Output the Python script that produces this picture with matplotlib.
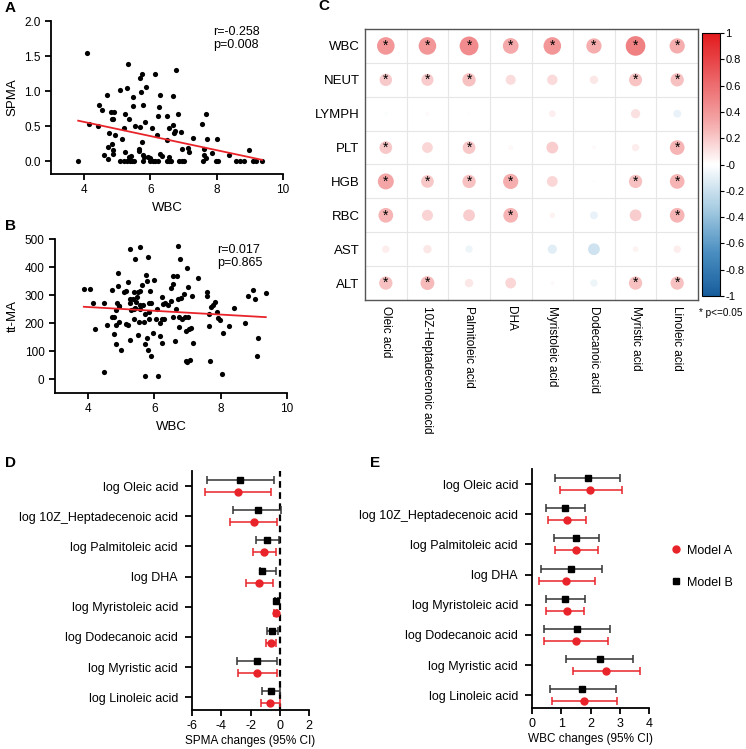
#!/usr/bin/env python3
# fatty_acid_panels.py

import numpy as np
import matplotlib
matplotlib.use("Agg")
import matplotlib.pyplot as plt
from matplotlib.colors import LinearSegmentedColormap, Normalize
from matplotlib.colorbar import ColorbarBase
from matplotlib.lines import Line2D

plt.rcParams["font.family"] = ["Liberation Sans", "DejaVu Sans"]
plt.rcParams["axes.unicode_minus"] = False

# Panel A: WBC vs SPMA
spma_wbc = [4.09, 4.14, 4.43, 4.45, 4.53, 4.61, 4.69, 4.71, 4.73, 4.75, 4.80, 4.83,
            4.85, 4.88, 4.91, 4.87, 4.88, 4.93, 5.09, 5.13, 5.19, 5.22, 5.24, 5.30,
            5.32, 5.34, 5.36, 5.40, 5.48, 5.48, 5.54, 5.65, 5.67, 5.69, 5.70, 5.72,
            5.74, 5.76, 5.78, 5.78, 5.80, 5.84, 5.88, 5.92, 5.98, 6.06, 6.14, 6.20,
            6.22, 6.26, 6.28, 6.28, 6.35, 6.49, 6.51, 6.55, 6.57, 6.67, 6.69, 6.72,
            6.74, 6.76, 6.82, 6.92, 6.94, 7.14, 7.16, 7.28, 7.55, 7.61, 7.67, 7.71,
            7.63, 7.67, 7.87, 8.01, 8.36, 8.98,
            3.82, 5.08, 5.19, 5.29, 5.39, 5.44, 5.49, 5.79, 6.00, 6.07, 6.15, 6.23,
            6.50, 6.57, 6.63, 6.86, 6.94, 7.01, 7.59, 7.97, 8.05, 8.58, 8.70, 8.83,
            9.09, 9.19, 9.37]
spma = [1.55, 0.53, 0.50, 0.80, 0.73, 0.09, 0.94, 0.21, 0.04, 0.40, 0.71, 0.60,
        0.25, 0.60, 0.71, 0.16, 0.10, 0.38, 1.02, 0.32, 0.47, 0.13, 0.68, 1.04,
        1.39, 0.61, 0.06, 0.08, 0.92, 0.79, 0.51, 0.15, 0.18, 0.49, 1.19, 0.99,
        0.27, 1.25, 0.81, 0.09, 0.06, 0.56, 1.06, 0.06, 0.05, 0.48, 1.25, 0.38,
        0.64, 0.78, 0.95, 0.11, 0.07, 0.65, 0.30, 0.06, 0.47, 0.52, 0.93, 0.40,
        0.43, 1.30, 0.68, 0.42, 0.18, 0.19, 0.14, 0.33, 0.53, 0.18, 0.67, 0.32,
        0.09, 0.05, 0.12, 0.32, 0.09, 0.16,
        0, 0, 0, 0, 0, 0, 0, 0, 0, 0, 0, 0,
        0, 0, 0, 0, 0, 0, 0, 0, 0, 0, 0, 0,
        0, 0, 0]
spma_fit = (0.964, -0.1006)  # intercept, slope
spma_stats = "r=-0.258\np=0.008"

# Panel B: WBC vs tt-MA
ttma_wbc = [3.87, 4.07, 4.14, 4.20, 4.49, 4.49, 4.57, 4.73, 4.73, 4.77, 4.79, 4.83,
            4.83, 4.85, 4.87, 4.89, 4.91, 4.92, 4.93, 4.94, 4.99, 5.07, 5.15, 5.15,
            5.19, 5.19, 5.25, 5.27, 5.25, 5.27, 5.29, 5.35, 5.37, 5.37, 5.37, 5.41,
            5.42, 5.44, 5.47, 5.49, 5.51, 5.53, 5.55, 5.55, 5.57, 5.57, 5.61, 5.65,
            5.69, 5.71, 5.71, 5.73, 5.75, 5.77, 5.77, 5.81, 5.81, 5.83, 5.83, 5.85,
            5.87, 5.89, 5.91, 5.97, 5.99, 6.05, 6.09, 6.11, 6.18, 6.18, 6.22, 6.24,
            6.24, 6.25, 6.29, 6.33, 6.41, 6.49, 6.51, 6.55, 6.57, 6.57, 6.61, 6.65,
            6.67, 6.71, 6.71, 6.73, 6.75, 6.77, 6.79, 6.83, 6.89, 6.93, 6.95, 6.95,
            6.97, 6.99, 7.01, 7.01, 7.03, 7.07, 7.09, 7.13, 7.17, 7.31, 7.58, 7.60,
            7.64, 7.64, 7.68, 7.72, 7.78, 7.84, 7.88, 7.92, 7.98, 8.06, 8.04, 8.24,
            8.40, 8.72, 8.82, 8.98, 9.02, 9.12, 9.08, 9.36]
ttma = [323, 323, 271, 179, 271, 26, 192, 318, 221, 221, 160, 192,
        126, 245, 273, 332, 378, 261, 204, 261, 104, 309, 316, 197,
        192, 348, 284, 271, 138, 463, 247, 284, 309, 249, 216, 430,
        252, 276, 292, 309, 157, 202, 472, 313, 249, 266, 335, 266,
        204, 10, 126, 233, 373, 349, 145, 435, 102, 240, 216, 271,
        316, 83, 271, 163, 354, 216, 249, 12, 199, 152, 216, 294,
        128, 267, 216, 271, 266, 324, 280, 221, 340, 368, 135, 249,
        368, 475, 287, 223, 185, 430, 290, 213, 304, 221, 171, 66,
        59, 398, 328, 221, 178, 68, 183, 297, 128, 359, 309, 295,
        188, 233, 66, 257, 266, 276, 238, 219, 209, 164, 19, 188,
        255, 200, 297, 318, 285, 145, 81, 306]
ttma_fit = (284.0, -6.74)
ttma_stats = "r=0.017\np=0.865"

# Panel C: correlation matrix
corr_rows = ["WBC", "NEUT", "LYMPH", "PLT", "HGB", "RBC", "AST", "ALT"]
corr_cols = ["Oleic acid", "10Z-Heptadecenoic acid", "Palmitoleic acid", "DHA",
             "Myristoleic acid", "Dodecanoic acid", "Myristic acid", "Linoleic acid"]
corr_vals = [
    [0.40, 0.40, 0.46, 0.32, 0.40, 0.30, 0.50, 0.30],
    [0.20, 0.19, 0.23, 0.13, 0.14, 0.09, 0.22, 0.23],
    [-0.02, 0.02, 0.01, 0.0, 0.06, 0.0, 0.11, -0.08],
    [0.21, 0.15, 0.21, 0.03, 0.18, 0.02, 0.07, 0.28],
    [0.33, 0.21, 0.23, 0.30, 0.15, 0.01, 0.23, 0.28],
    [0.28, 0.16, 0.18, 0.28, 0.04, -0.08, 0.18, 0.28],
    [0.07, 0.09, -0.07, 0.0, -0.11, -0.18, 0.04, 0.07],
    [0.23, 0.25, 0.09, 0.15, 0.02, -0.07, 0.23, 0.23],
]
corr_sig = [
    [1, 1, 1, 1, 1, 1, 1, 1],
    [1, 1, 1, 0, 0, 0, 1, 1],
    [0, 0, 0, 0, 0, 0, 0, 0],
    [1, 0, 1, 0, 0, 0, 0, 1],
    [1, 1, 1, 1, 0, 0, 1, 1],
    [1, 0, 0, 1, 0, 0, 0, 1],
    [0, 0, 0, 0, 0, 0, 0, 0],
    [1, 1, 0, 0, 0, 0, 1, 1],
]

# Panels D and E: regression estimates (point, low, high)
acid_labels = ["log Oleic acid", "log 10Z_Heptadecenoic acid", "log Palmitoleic acid",
               "log DHA", "log Myristoleic acid", "log Dodecanoic acid",
               "log Myristic acid", "log Linoleic acid"]
spma_a = [-2.87, -1.76, -1.06, -1.40, -0.27, -0.57, -1.54, -0.68]
spma_a_lo = [-5.11, -3.39, -1.86, -2.33, -0.36, -0.95, -2.87, -1.31]
spma_a_hi = [-0.63, -0.16, -0.27, -0.45, -0.18, -0.23, -0.18, 0.0]
spma_b = [-2.72, -1.52, -0.86, -1.18, -0.23, -0.50, -1.54, -0.61]
spma_b_lo = [-4.98, -3.17, -1.63, -1.35, -0.32, -0.90, -2.90, -1.24]
spma_b_hi = [-0.41, 0.11, -0.05, -0.25, -0.12, -0.11, -0.18, 0.0]

wbc_a = [1.99, 1.21, 1.50, 1.17, 1.21, 1.52, 2.54, 1.79]
wbc_a_lo = [0.95, 0.55, 0.79, 0.23, 0.48, 0.42, 1.40, 0.68]
wbc_a_hi = [3.08, 1.86, 2.25, 2.15, 1.77, 2.60, 3.69, 2.91]
wbc_b = [1.90, 1.13, 1.52, 1.34, 1.14, 1.55, 2.31, 1.72]
wbc_b_lo = [0.80, 0.47, 0.74, 0.31, 0.47, 0.42, 1.15, 0.60]
wbc_b_hi = [3.02, 1.80, 2.29, 2.39, 1.81, 2.68, 3.45, 2.88]

RED = "#e8242a"
W = 746
H = 749


def box(left, top, right, bottom):
    return [left / W, 1 - bottom / H, (right - left) / W, (bottom - top) / H]


def style_prism(ax):
    for s in ["top", "right"]:
        ax.spines[s].set_visible(False)
    for s in ["left", "bottom"]:
        ax.spines[s].set_linewidth(1.3)
    ax.tick_params(direction="out", length=4, width=1.3, labelsize=8.5)


def plot_scatter(ax, x, y, fit, stats, ylabel, xlim, ylim, yticks, yfmt):
    style_prism(ax)
    ax.scatter(x, y, s=14, color="black", zorder=3, clip_on=False, linewidths=0)
    xs = np.array([min(x), max(x)])
    ax.plot(xs, fit[0] + fit[1] * xs, color=RED, linewidth=1.3, zorder=4)
    ax.set_xlim(*xlim)
    ax.set_ylim(*ylim)
    ax.set_xticks([4, 6, 8, 10])
    ax.set_yticks(yticks)
    ax.set_yticklabels([yfmt.format(v) for v in yticks])
    ax.set_xlabel("WBC", fontsize=9.5)
    ax.set_ylabel(ylabel, fontsize=9.5)
    ax.text(0.70, 0.97, stats, transform=ax.transAxes, fontsize=9,
            va="top", ha="left", linespacing=1.2)


def plot_corr(ax, cax, fig):
    cmap = LinearSegmentedColormap.from_list(
        "corr", ["#175d9c", "#4b8fc1", "#a7cce2", "#ffffff",
                 "#f4a5a6", "#eb6063", "#e2191c"])
    norm = Normalize(-1, 1)
    vals = np.array(corr_vals)
    nr, nc = vals.shape
    ax.set_xlim(0, nc)
    ax.set_ylim(nr, 0)
    for i in range(1, nc):
        ax.axvline(i, color="#e6e6e6", linewidth=0.8, zorder=0)
    for j in range(1, nr):
        ax.axhline(j, color="#e6e6e6", linewidth=0.8, zorder=0)
    cell_pt = (271 / nr) * 72 / 100
    cx, cy = np.meshgrid(np.arange(nc) + 0.5, np.arange(nr) + 0.5)
    sizes = (0.82 * np.sqrt(np.abs(vals)) * cell_pt) ** 2
    ax.scatter(cx.ravel(), cy.ravel(), s=sizes.ravel(),
               c=cmap(norm(vals.ravel())), linewidths=0, zorder=2)
    for r in range(nr):
        for c in range(nc):
            if corr_sig[r][c]:
                ax.text(c + 0.5, r + 0.5, "*", ha="center", va="center",
                        fontsize=10, zorder=3)
    ax.set_xticks(np.arange(nc) + 0.5)
    ax.set_yticks(np.arange(nr) + 0.5)
    ax.set_xticklabels(corr_cols, rotation=-90, fontsize=8.5, va="top")
    ax.set_yticklabels(corr_rows, fontsize=9.5)
    ax.tick_params(length=0, pad=4)
    for s in ax.spines.values():
        s.set_color("#555555")
        s.set_linewidth(1.0)

    cb = ColorbarBase(cax, cmap=cmap, norm=norm, orientation="vertical")
    ticks = np.round(np.arange(-1, 1.01, 0.2), 1)
    cb.set_ticks(ticks)
    cb.set_ticklabels(["{:g}".format(t) for t in ticks])
    cb.outline.set_linewidth(0.8)
    cax.tick_params(labelsize=8, length=3, width=0.8, pad=1)
    fig.text(699 / W, 1 - 313 / H, "* p<=0.05", fontsize=7.2, va="center", ha="left")


def plot_forest(ax, a, a_lo, a_hi, b, b_lo, b_hi, xlim, xticks, xlabel, zero_line):
    style_prism(ax)
    n = len(acid_labels)
    ypos = np.arange(n, 0, -1)
    off = 0.2
    a = np.array(a)
    b = np.array(b)
    ax.errorbar(b, ypos + off, xerr=[b - np.array(b_lo), np.array(b_hi) - b],
                fmt="s", color="black", ecolor="#333333", markersize=5,
                elinewidth=1.1, capsize=3, capthick=1.1, zorder=3)
    ax.errorbar(a, ypos - off, xerr=[a - np.array(a_lo), np.array(a_hi) - a],
                fmt="o", color=RED, ecolor=RED, markersize=5,
                elinewidth=1.1, capsize=3, capthick=1.1, zorder=3)
    if zero_line:
        ax.axvline(0, color="black", linestyle=(0, (3, 2)), linewidth=1.6, zorder=2)
    ax.set_xlim(*xlim)
    ax.set_ylim(0.58, n + 0.5)
    ax.set_xticks(xticks)
    ax.set_yticks(ypos)
    ax.set_yticklabels(acid_labels, fontsize=9)
    ax.tick_params(axis="y", length=5, pad=5)
    ax.tick_params(axis="x", labelsize=9)
    ax.set_xlabel(xlabel, fontsize=8.5, labelpad=2)


def main():
    fig = plt.figure(figsize=(W / 100, H / 100), dpi=100)

    ax_a = fig.add_axes(box(51, 21, 283, 174))
    plot_scatter(ax_a, spma_wbc, spma, spma_fit, spma_stats, "SPMA",
                 (3, 10), (-0.18, 2.0), [0, 0.5, 1.0, 1.5, 2.0], "{:.1f}")

    ax_b = fig.add_axes(box(55, 239, 287, 393))
    plot_scatter(ax_b, ttma_wbc, ttma, ttma_fit, ttma_stats, "tt-MA",
                 (3, 10), (-50, 500), [0, 100, 200, 300, 400, 500], "{:d}")

    ax_c = fig.add_axes(box(365, 29, 698, 300))
    cax = fig.add_axes(box(702, 33, 720, 296))
    plot_corr(ax_c, cax, fig)

    ax_d = fig.add_axes(box(192, 471, 309, 710))
    plot_forest(ax_d, spma_a, spma_a_lo, spma_a_hi, spma_b, spma_b_lo, spma_b_hi,
                (-6, 2), [-6, -4, -2, 0, 2], "SPMA changes (95% CI)", True)

    ax_e = fig.add_axes(box(532, 469, 649, 708))
    plot_forest(ax_e, wbc_a, wbc_a_lo, wbc_a_hi, wbc_b, wbc_b_lo, wbc_b_hi,
                (0, 4), [0, 1, 2, 3, 4], "WBC changes (95% CI)", False)
    handles = [
        Line2D([], [], marker="o", color=RED, linestyle="none", markersize=5),
        Line2D([], [], marker="s", color="black", linestyle="none", markersize=5),
    ]
    ax_e.legend(handles, ["Model A", "Model B"], loc="upper left",
                bbox_to_anchor=(1.08, 0.73), frameon=False, fontsize=9,
                labelspacing=1.6, handletextpad=0.4, handlelength=1.0)

    for lab, x, y in [("A", 5, 8), ("B", 5, 226), ("C", 318, 6), ("D", 5, 463), ("E", 370, 463)]:
        fig.text(x / W, 1 - y / H, lab, fontsize=11, fontweight="bold",
                 va="center", ha="left")

    fig.savefig("out.png", dpi=100)


if __name__ == "__main__":
    main()
